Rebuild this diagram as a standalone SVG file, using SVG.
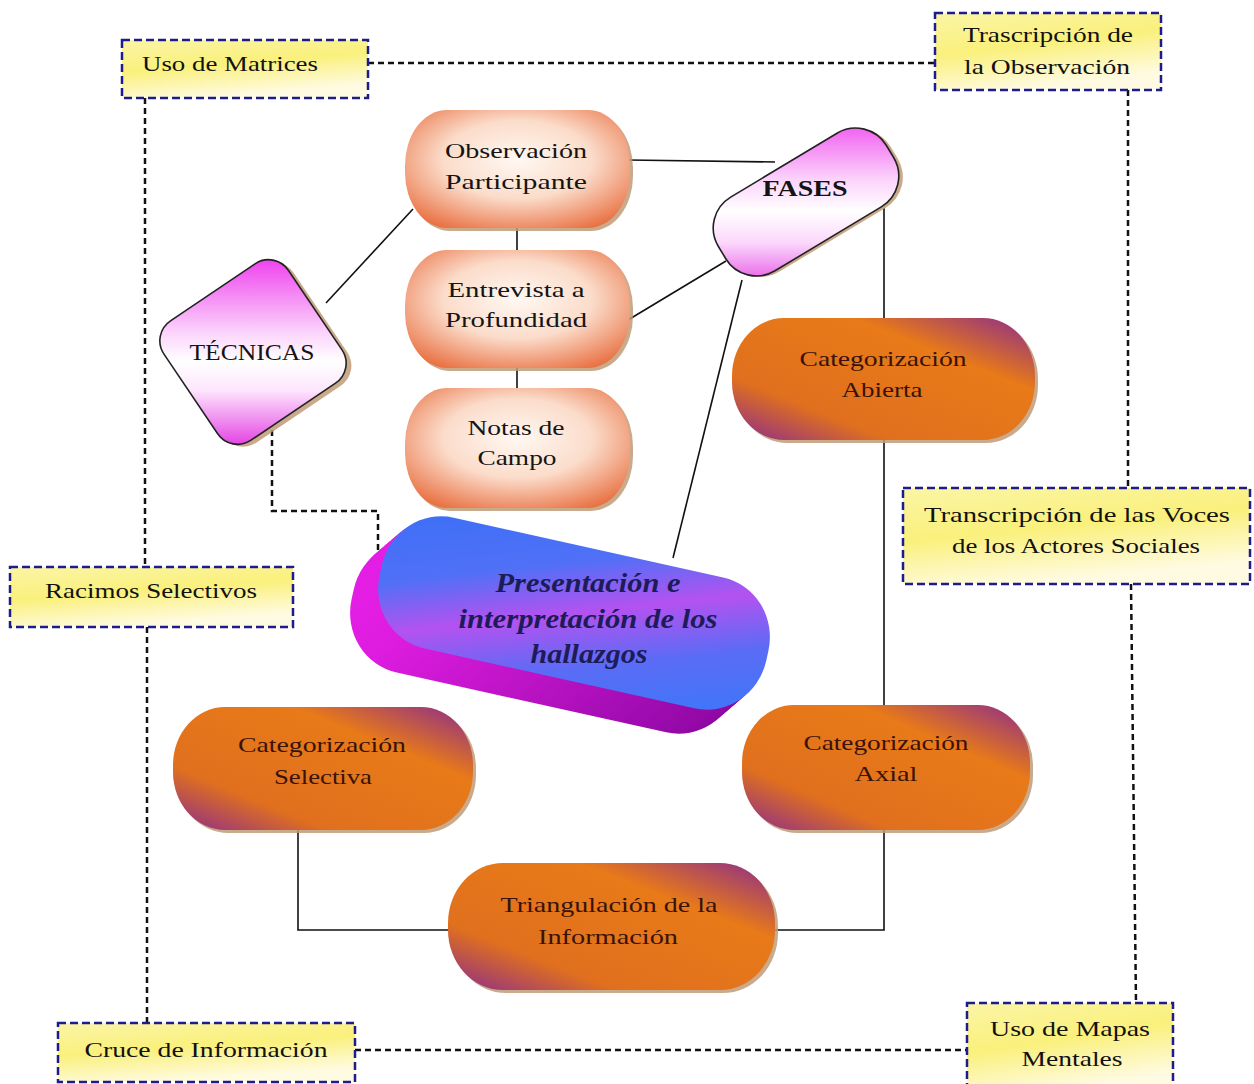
<svg xmlns="http://www.w3.org/2000/svg" xmlns:xlink="http://www.w3.org/1999/xlink" width="1254" height="1084" viewBox="0 0 1254 1084">
  <style>
    .note { fill: url(#yellowFill); stroke: #1c1c8c; stroke-width: 2.5; stroke-dasharray: 8 4; }
    .dash { fill: none; stroke: #111; stroke-width: 2.5; stroke-dasharray: 6 4; }
    .solid { fill: none; stroke: #111; stroke-width: 1.6; }
    .peach { fill: url(#peachFill); }
    .amber { fill: url(#amberFill); }
    .shadow { fill: #bf9c78; opacity: 0.85; }
    .outline { stroke: #222; stroke-width: 1.6; }
    text { font-family: "Liberation Serif", "Times New Roman", serif; text-anchor: middle; }
    .t-note { font-size: 21px; fill: #111; }
    .t-peach { font-size: 22px; fill: #141414; }
    .t-amber { font-size: 22px; fill: #3a1208; }
    .t-shape { font-size: 23px; fill: #141414; }
    .t-main { font-size: 28px; font-weight: bold; font-style: italic; fill: #1c1c58; }
  </style>
  <defs>
    <linearGradient id="yellowFill" x1="0" y1="0" x2="0.35" y2="1">
      <stop offset="0" stop-color="#fbf5a6"/>
      <stop offset="0.5" stop-color="#faf07c"/>
      <stop offset="1" stop-color="#fffbe2"/>
    </linearGradient>
    <radialGradient id="peachFill" cx="0.5" cy="0.42" r="0.66">
      <stop offset="0" stop-color="#fff8f2"/>
      <stop offset="0.5" stop-color="#fbdcca"/>
      <stop offset="1" stop-color="#e97244"/>
    </radialGradient>
    <linearGradient id="amberFill" x1="0" y1="1" x2="1" y2="0">
      <stop offset="0" stop-color="#8a2a8e"/>
      <stop offset="0.26" stop-color="#e0701e"/>
      <stop offset="0.7" stop-color="#e87a18"/>
      <stop offset="1" stop-color="#8a2a8e"/>
    </linearGradient>
    <!-- pink fills stay vertical on screen although their shapes are turned -->
    <linearGradient id="pinkTec" gradientUnits="userSpaceOnUse" x1="0" y1="-96" x2="0" y2="96" gradientTransform="rotate(34)">
      <stop offset="0" stop-color="#ee3cee"/>
      <stop offset="0.4" stop-color="#fbd4fb"/>
      <stop offset="0.55" stop-color="#fff"/>
      <stop offset="0.7" stop-color="#fde6fd"/>
      <stop offset="1" stop-color="#e23ae2"/>
    </linearGradient>
    <linearGradient id="pinkFas" gradientUnits="userSpaceOnUse" x1="0" y1="-92" x2="0" y2="92" gradientTransform="rotate(31)">
      <stop offset="0" stop-color="#ee3cee"/>
      <stop offset="0.38" stop-color="#fbd4fb"/>
      <stop offset="0.55" stop-color="#fff"/>
      <stop offset="0.72" stop-color="#fbd8fb"/>
      <stop offset="1" stop-color="#e23ae2"/>
    </linearGradient>
    <linearGradient id="faceFill" x1="0" y1="0" x2="1" y2="1">
      <stop offset="0" stop-color="#3a6ff7"/>
      <stop offset="0.3" stop-color="#5070f6"/>
      <stop offset="0.5" stop-color="#b452f0"/>
      <stop offset="0.72" stop-color="#5a6cf5"/>
      <stop offset="1" stop-color="#3a78f8"/>
    </linearGradient>
    <linearGradient id="depthFill" x1="0" y1="0" x2="1" y2="0">
      <stop offset="0" stop-color="#e41ee4"/>
      <stop offset="1" stop-color="#8a06a0"/>
    </linearGradient>
    <rect id="pres" x="-198" y="-67" width="396" height="134" rx="60" ry="62"/>
  </defs>

  <rect width="1254" height="1084" fill="#fff"/>

  <!-- connectors -->
  <g id="connectors">
    <!-- dashed outer frame -->
    <line class="dash" x1="368" y1="63" x2="935" y2="63"/>
    <line class="dash" x1="145" y1="98" x2="145" y2="567"/>
    <line class="dash" x1="147" y1="627" x2="147" y2="1023"/>
    <line class="dash" x1="355" y1="1050" x2="967" y2="1050"/>
    <line class="dash" x1="1128" y1="90" x2="1128" y2="488"/>
    <line class="dash" x1="1131" y1="584" x2="1136" y2="1003"/>
    <polyline class="dash" points="272,430 272,511 378,511 378,594"/>
    <!-- solid links -->
    <line class="solid" x1="326" y1="303" x2="413" y2="209"/>
    <line class="solid" x1="628" y1="160" x2="775" y2="162"/>
    <line class="solid" x1="628" y1="320" x2="726" y2="261"/>
    <line class="solid" x1="742" y1="280" x2="673" y2="558"/>
    <line class="solid" x1="517" y1="226" x2="517" y2="252"/>
    <line class="solid" x1="517" y1="366" x2="517" y2="390"/>
    <polyline class="solid" points="884,208 884,930 772,930"/>
    <polyline class="solid" points="298,828 298,930 452,930"/>
  </g>

  <!-- dashed note boxes -->
  <g id="uso-matrices">
    <rect class="note" x="122" y="40" width="246" height="58"/>
    <text class="t-note" x="230" y="71" textLength="176" lengthAdjust="spacingAndGlyphs">Uso de Matrices</text>
  </g>
  <g id="trascripcion-observacion">
    <rect class="note" x="935" y="13" width="226" height="77"/>
    <text class="t-note" x="1048" y="42" textLength="170" lengthAdjust="spacingAndGlyphs">Trascripción de</text>
    <text class="t-note" x="1047" y="74" textLength="166" lengthAdjust="spacingAndGlyphs">la Observación</text>
  </g>
  <g id="racimos-selectivos">
    <rect class="note" x="10" y="567" width="283" height="60"/>
    <text class="t-note" x="151" y="598" textLength="212" lengthAdjust="spacingAndGlyphs">Racimos Selectivos</text>
  </g>
  <g id="transcripcion-voces">
    <rect class="note" x="903" y="488" width="347" height="96"/>
    <text class="t-note" x="1077" y="522" textLength="306" lengthAdjust="spacingAndGlyphs">Transcripción de las Voces</text>
    <text class="t-note" x="1076" y="553" textLength="248" lengthAdjust="spacingAndGlyphs">de los Actores Sociales</text>
  </g>
  <g id="cruce-informacion">
    <rect class="note" x="58" y="1023" width="297" height="59"/>
    <text class="t-note" x="206" y="1057" textLength="243" lengthAdjust="spacingAndGlyphs">Cruce de Información</text>
  </g>
  <g id="mapas-mentales">
    <rect class="note" x="967" y="1003" width="206" height="90"/>
    <text class="t-note" x="1070" y="1036" textLength="160" lengthAdjust="spacingAndGlyphs">Uso de Mapas</text>
    <text class="t-note" x="1072" y="1066" textLength="101" lengthAdjust="spacingAndGlyphs">Mentales</text>
  </g>

  <!-- technique column -->
  <g id="observacion">
    <rect class="shadow" x="408" y="113" width="225" height="118" rx="42" ry="55"/>
    <rect class="peach" x="405" y="110" width="225" height="118" rx="42" ry="55"/>
    <text class="t-peach" x="516" y="158" textLength="142" lengthAdjust="spacingAndGlyphs">Observación</text>
    <text class="t-peach" x="516" y="189" textLength="142" lengthAdjust="spacingAndGlyphs">Participante</text>
  </g>
  <g id="entrevista">
    <rect class="shadow" x="408" y="253" width="225" height="118" rx="42" ry="55"/>
    <rect class="peach" x="405" y="250" width="225" height="118" rx="42" ry="55"/>
    <text class="t-peach" x="516" y="297" textLength="137" lengthAdjust="spacingAndGlyphs">Entrevista a</text>
    <text class="t-peach" x="516" y="327" textLength="142" lengthAdjust="spacingAndGlyphs">Profundidad</text>
  </g>
  <g id="notas-campo">
    <rect class="shadow" x="408" y="391" width="225" height="120" rx="42" ry="55"/>
    <rect class="peach" x="405" y="388" width="225" height="120" rx="42" ry="55"/>
    <text class="t-peach" x="516" y="435" textLength="97" lengthAdjust="spacingAndGlyphs">Notas de</text>
    <text class="t-peach" x="517" y="465" textLength="79" lengthAdjust="spacingAndGlyphs">Campo</text>
  </g>

  <!-- grouping shapes -->
  <g id="tecnicas">
    <g transform="translate(253,352) rotate(-34)">
      <rect class="shadow" x="-72" y="-67" width="150" height="144" rx="24"/>
      <rect class="outline" x="-75" y="-72" width="150" height="144" rx="24" fill="url(#pinkTec)"/>
    </g>
    <text class="t-shape" x="252" y="360" textLength="125" lengthAdjust="spacingAndGlyphs">TÉCNICAS</text>
  </g>
  <g id="fases">
    <g transform="translate(806,202) rotate(-31)">
      <rect class="shadow" x="-95" y="-40" width="196" height="86" rx="36"/>
      <rect class="outline" x="-98" y="-43" width="196" height="86" rx="36" fill="url(#pinkFas)"/>
    </g>
    <text class="t-shape" x="805" y="196" font-weight="bold" textLength="85" lengthAdjust="spacingAndGlyphs">FASES</text>
  </g>

  <!-- central extruded label -->
  <g id="presentacion">
    <use xlink:href="#pres" fill="url(#depthFill)" transform="translate(546,637) rotate(12.5)"/>
    <use xlink:href="#pres" fill="url(#depthFill)" transform="translate(549,634) rotate(12.5)"/>
    <use xlink:href="#pres" fill="url(#depthFill)" transform="translate(553,631) rotate(12.5)"/>
    <use xlink:href="#pres" fill="url(#depthFill)" transform="translate(556,628) rotate(12.5)"/>
    <use xlink:href="#pres" fill="url(#depthFill)" transform="translate(560,625) rotate(12.5)"/>
    <use xlink:href="#pres" fill="url(#depthFill)" transform="translate(563,622) rotate(12.5)"/>
    <use xlink:href="#pres" fill="url(#depthFill)" transform="translate(567,619) rotate(12.5)"/>
    <use xlink:href="#pres" fill="url(#depthFill)" transform="translate(570,616) rotate(12.5)"/>
    <use xlink:href="#pres" fill="url(#faceFill)" transform="translate(574,613) rotate(12.5)"/>
    <text class="t-main" x="588" y="592" textLength="185" lengthAdjust="spacingAndGlyphs">Presentación e</text>
    <text class="t-main" x="588" y="628" textLength="259" lengthAdjust="spacingAndGlyphs">interpretación de los</text>
    <text class="t-main" x="589" y="663" textLength="117" lengthAdjust="spacingAndGlyphs">hallazgos</text>
  </g>

  <!-- coding phases -->
  <g id="cat-abierta">
    <rect class="shadow" x="735" y="321" width="303" height="122" rx="52" ry="58"/>
    <rect class="amber" x="732" y="318" width="303" height="122" rx="52" ry="58"/>
    <text class="t-amber" x="883" y="366" textLength="167" lengthAdjust="spacingAndGlyphs">Categorización</text>
    <text class="t-amber" x="882" y="397" textLength="81" lengthAdjust="spacingAndGlyphs">Abierta</text>
  </g>
  <g id="cat-axial">
    <rect class="shadow" x="745" y="708" width="288" height="125" rx="52" ry="58"/>
    <rect class="amber" x="742" y="705" width="288" height="125" rx="52" ry="58"/>
    <text class="t-amber" x="886" y="750" textLength="165" lengthAdjust="spacingAndGlyphs">Categorización</text>
    <text class="t-amber" x="886" y="781" textLength="63" lengthAdjust="spacingAndGlyphs">Axial</text>
  </g>
  <g id="cat-selectiva">
    <rect class="shadow" x="176" y="710" width="300" height="123" rx="52" ry="58"/>
    <rect class="amber" x="173" y="707" width="300" height="123" rx="52" ry="58"/>
    <text class="t-amber" x="322" y="752" textLength="168" lengthAdjust="spacingAndGlyphs">Categorización</text>
    <text class="t-amber" x="323" y="784" textLength="98" lengthAdjust="spacingAndGlyphs">Selectiva</text>
  </g>
  <g id="triangulacion">
    <rect class="shadow" x="451" y="866" width="327" height="127" rx="55" ry="60"/>
    <rect class="amber" x="448" y="863" width="327" height="127" rx="55" ry="60"/>
    <text class="t-amber" x="609" y="912" textLength="217" lengthAdjust="spacingAndGlyphs">Triangulación de la</text>
    <text class="t-amber" x="608" y="944" textLength="140" lengthAdjust="spacingAndGlyphs">Información</text>
  </g>
</svg>
